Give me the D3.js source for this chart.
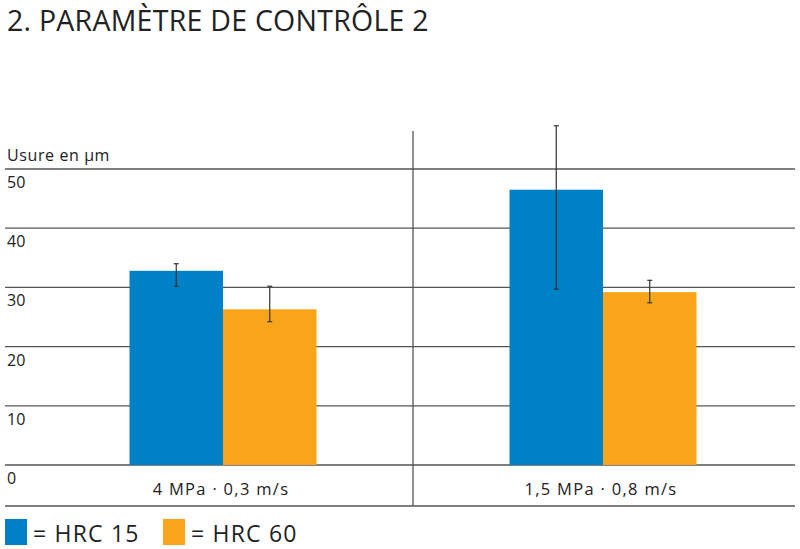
<!DOCTYPE html>
<html>
<head>
<meta charset="utf-8">
<script src="https://cdn.jsdelivr.net/npm/d3@7"></script>
<style>
  body { margin: 0; background: #fff; }
  text { font-family: "Open Sans", "Noto Sans", sans-serif; fill: #222; }
</style>
</head>
<body>
<div id="chart"></div>
<script>
const categories = ["4 MPa · 0,3 m/s", "1,5 MPa · 0,8 m/s"];
const seriesNames = ["HRC 15", "HRC 60"];
const hrc15 = [32.8, 46.5];
const hrc60 = [26.3, 29.2];
const hrc15Err = [[30.2, 34.0], [29.7, 57.3]];
const hrc60Err = [[24.2, 30.2], [27.4, 31.2]];
const yTicks = [0, 10, 20, 30, 40, 50];
const colors = ["#0080c6", "#f9a51b"];

const W = 800, H = 549;
const svg = d3.select("#chart").append("svg")
    .attr("width", W).attr("height", H);

const values = [hrc15, hrc60];
const errs = [hrc15Err, hrc60Err];
const data = [];
categories.forEach((c, i) => {
    seriesNames.forEach((s, j) => {
        data.push({cat: c, series: s, value: values[j][i], lo: errs[j][i][0], hi: errs[j][i][1], color: colors[j]});
    });
});

const y = d3.scaleLinear().domain([0, 50]).range([465, 169]);
const x0 = d3.scaleBand().domain(categories).range([33, 793]);
const x1 = d3.scaleBand().domain(seriesNames)
    .range([x0.bandwidth() * 0.254, x0.bandwidth() * 0.746]);

// title
svg.append("text").attr("x", 7).attr("y", 31)
    .style("font-size", "28.5px").style("letter-spacing", "0.25px")
    .text("2. PARAMÈTRE DE CONTRÔLE 2");

// gridlines
svg.append("g").selectAll("line").data(yTicks).enter().append("line")
    .attr("x1", 5).attr("x2", 795)
    .attr("y1", d => y(d)).attr("y2", d => y(d))
    .attr("stroke", "#555").attr("stroke-width", 1.3);

// bottom line and separator
svg.append("line").attr("x1", 5).attr("x2", 795).attr("y1", 506).attr("y2", 506)
    .attr("stroke", "#555").attr("stroke-width", 1.3);
svg.append("line").attr("x1", x0(categories[1])).attr("x2", x0(categories[1]))
    .attr("y1", 131).attr("y2", 506)
    .attr("stroke", "#555").attr("stroke-width", 1.3);

// y labels
svg.append("g").selectAll("text").data(yTicks).enter().append("text")
    .attr("x", 7).attr("y", d => y(d) + 19)
    .style("font-size", "16px").text(d => d);
svg.append("text").attr("x", 7).attr("y", 161)
    .style("font-size", "16px").style("letter-spacing", "0.6px").text("Usure en µm");

// bars
svg.append("g").selectAll("rect").data(data).enter().append("rect")
    .attr("x", d => x0(d.cat) + x1(d.series))
    .attr("width", x1.bandwidth())
    .attr("y", d => y(d.value))
    .attr("height", d => y(0) - y(d.value))
    .attr("fill", d => d.color);

// error bars
const eb = svg.append("g").attr("stroke", "#333").attr("stroke-width", 1.2);
data.forEach(d => {
    const cx = x0(d.cat) + x1(d.series) + x1.bandwidth() / 2;
    eb.append("line").attr("x1", cx).attr("x2", cx).attr("y1", y(d.lo)).attr("y2", y(d.hi));
    [d.lo, d.hi].forEach(v => eb.append("line")
        .attr("x1", cx - 2.5).attr("x2", cx + 2.5).attr("y1", y(v)).attr("y2", y(v)));
});

// category labels
svg.append("g").selectAll("text").data(categories).enter().append("text")
    .attr("x", d => x0(d) + x0.bandwidth() / 2 - 2).attr("y", 495)
    .attr("text-anchor", "middle").style("font-size", "16.5px").style("letter-spacing", "1.3px")
    .text(d => d);

// legend
const lx = [5, 163];
seriesNames.forEach((s, j) => {
    svg.append("rect").attr("x", lx[j]).attr("y", 519).attr("width", 22).attr("height", 26)
        .attr("fill", colors[j]);
    svg.append("text").attr("x", lx[j] + 28).attr("y", 542)
        .style("font-size", "23px").style("letter-spacing", "1.2px").text("= " + s);
});
</script>
</body>
</html>
